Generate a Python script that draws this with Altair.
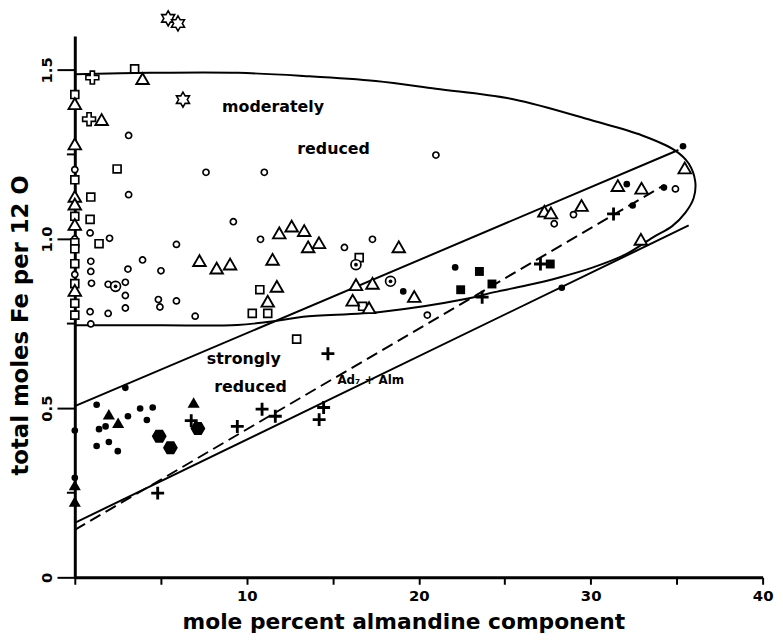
import altair as alt
import pandas as pd

# ---------------- data ----------------
open_circles = [(3.13, 1.306), (7.63, 1.197), (11.02, 1.197), (21.0, 1.248), (0, 1.205),
                (3.13, 1.131), (9.22, 1.051), (0.89, 1.018), (2.02, 1.002), (5.91, 0.984),
                (3.94, 0.938), (0.93, 0.934), (0.93, 0.904), (3.09, 0.911), (5.01, 0.906),
                (0.97, 0.869), (1.94, 0.866), (2.94, 0.872), (2.94, 0.833), (4.86, 0.821),
                (4.95, 0.799), (5.91, 0.817), (2.94, 0.796), (0.89, 0.785), (1.94, 0.78),
                (7.0, 0.772), (0.93, 0.749), (0, 1.0), (0, 0.895), (10.8, 0.999),
                (15.68, 0.975), (17.31, 0.999), (20.5, 0.775), (29.0, 1.072),
                (27.88, 1.045), (34.93, 1.148)]
open_squares = [(3.48, 1.503), (2.46, 1.207), (0, 1.427), (0, 1.175), (0.93, 1.124),
                (0.89, 1.058), (1.41, 0.986), (0, 1.067), (0, 0.989), (0, 0.971),
                (0, 0.927), (0, 0.868), (0, 0.81), (0, 0.775), (10.32, 0.78),
                (11.22, 0.78), (10.76, 0.85), (12.9, 0.704), (16.54, 0.945), (16.74, 0.801)]
open_triangles = [(3.94, 1.474), (1.56, 1.353), (0, 1.40), (0, 1.281), (0, 1.126),
                  (0, 1.103), (0, 1.043), (0, 0.848), (7.25, 0.936), (8.25, 0.914),
                  (9.03, 0.926), (11.89, 1.018), (12.61, 1.038), (13.34, 1.025),
                  (13.57, 0.977), (14.2, 0.989), (11.5, 0.94), (11.75, 0.86),
                  (11.22, 0.816), (18.84, 0.977), (16.35, 0.865), (17.31, 0.869),
                  (16.16, 0.819), (17.11, 0.797), (19.74, 0.83), (35.47, 1.21),
                  (31.58, 1.158), (32.96, 1.15), (29.47, 1.099), (27.31, 1.082),
                  (27.69, 1.077), (32.92, 0.999)]
filled_circles = [(2.94, 0.56), (1.27, 0.51), (3.09, 0.476), (3.8, 0.499), (4.19, 0.465),
                  (4.53, 0.502), (1.41, 0.438), (1.79, 0.446), (1.27, 0.388), (1.98, 0.4),
                  (2.5, 0.373), (0, 0.434), (0, 0.294), (19.1, 0.845), (22.12, 0.916),
                  (35.37, 1.274), (32.1, 1.162), (34.26, 1.152), (32.44, 1.099), (28.32, 0.856)]
filled_triangles = [(1.98, 0.482), (2.52, 0.457), (6.91, 0.517), (0, 0.273), (0, 0.224)]
filled_hexagons = [(4.91, 0.417), (5.56, 0.383), (7.16, 0.44)]
filled_squares = [(23.53, 0.904), (22.44, 0.85), (24.26, 0.867), (27.65, 0.926)]
plus_signs = [(14.72, 0.661), (10.89, 0.497), (11.66, 0.476), (14.47, 0.502), (14.21, 0.466),
              (9.45, 0.446), (6.77, 0.463), (4.82, 0.249), (23.69, 0.828), (31.33, 1.074),
              (27.08, 0.926)]
open_crosses = [(1.02, 1.477), (0.83, 1.354)]
stars = [(5.43, 1.652), (6.0, 1.637), (6.29, 1.412)]
circled_dots = [(2.37, 0.86), (16.35, 0.924), (18.36, 0.875)]

curve_x = [0, 4.4, 9.5, 13.3, 17.5, 21.0, 25.5, 30.1, 33.0, 34.9, 35.7, 36.08, 35.99,
           35.5, 34.74, 33.6, 32.06, 30.14, 28.23, 26.3, 24.4, 22.86, 17.88, 13.28,
           11.75, 9.45, 5.0, 0]
curve_y = [1.487, 1.491, 1.491, 1.482, 1.467, 1.444, 1.413, 1.35, 1.306, 1.262, 1.223,
           1.17, 1.121, 1.077, 1.038, 1.004, 0.955, 0.916, 0.887, 0.863, 0.843, 0.824,
           0.785, 0.77, 0.758, 0.746, 0.745, 0.745]

solid_lines = [("upper", 0, 0.506), ("upper", 35.1, 1.263),
               ("lower", 0, 0.161), ("lower", 35.7, 1.04)]
dashed_line = [(0, 0.14), (34.3, 1.16)]

region_labels = ["moderately", "reduced", "strongly", "reduced"]
region_x = [11.53, 15.05, 9.83, 10.22]
region_y = [1.39, 1.266, 0.645, 0.563]
line_label = ["Ad\u2087 + Alm"]
line_label_x = [17.21]
line_label_y = [0.583]

x_ticks = [0, 5, 10, 15, 20, 25, 30, 35, 40]
y_ticks = [0, 0.5, 1.0, 1.5]
y_minor_ticks = [0.25, 0.75, 1.25]

# ---------------- chart ----------------
FONT = "DejaVu Sans"

x_axis = alt.Axis(values=x_ticks, format="d",
                  labelExpr="(datum.value % 10 === 0 && datum.value > 0) ? datum.label : ''",
                  grid=False, domainColor="black", domainWidth=3,
                  tickColor="black", tickWidth=2, tickSize=7,
                  labelFont=FONT, labelFontSize=15, labelFontWeight="bold",
                  labelColor="black", labelPadding=4, labelFlush=False, labelOverlap=False,
                  title="mole percent almandine component", titleFont=FONT,
                  titleFontSize=22, titleFontWeight="bold", titleColor="black",
                  titleX=332, titleY=52, titleAlign="center", titleBaseline="alphabetic")
y_axis = alt.Axis(values=y_ticks,
                  labelExpr="datum.value === 0 ? '0' : format(datum.value, '.1f')",
                  grid=False, domainColor="black", domainWidth=3,
                  tickColor="black", tickWidth=2, tickSize=18,
                  labelAngle=270, labelFont=FONT, labelFontSize=15, labelFontWeight="bold",
                  labelColor="black", labelPadding=3, labelFlush=False, labelOverlap=False,
                  title="total moles Fe per 12 O", titleFont=FONT, titleFontSize=23,
                  titleFontWeight="bold", titleColor="black", titleAngle=270,
                  titleX=-47.5, titleY=292, titleAlign="center", titleBaseline="alphabetic")

X = alt.X("x:Q", scale=alt.Scale(domain=[0, 40], nice=False, zero=False), axis=x_axis)
Y = alt.Y("y:Q", scale=alt.Scale(domain=[0, 1.6], nice=False, zero=False), axis=y_axis)

HEX = "M-0.5,-0.866L0.5,-0.866L1,0L0.5,0.866L-0.5,0.866L-1,0Z"
PLUS = "M-1,-0.22L1,-0.22L1,0.22L-1,0.22Z M-0.22,-1L0.22,-1L0.22,1L-0.22,1Z"
OPEN_CROSS = ("M-0.33,-1L0.33,-1L0.33,-0.33L1,-0.33L1,0.33L0.33,0.33L0.33,1L-0.33,1"
              "L-0.33,0.33L-1,0.33L-1,-0.33L-0.33,-0.33Z")
STAR = ("M0,-1L0.289,-0.5L0.866,-0.5L0.577,0L0.866,0.5L0.289,0.5L0,1L-0.289,0.5"
        "L-0.866,0.5L-0.577,0L-0.866,-0.5L-0.289,-0.5Z")


def pts(points, shape, size, fill, stroke=None, sw=0):
    df = pd.DataFrame(points, columns=["x", "y"])
    kw = dict(shape=shape, size=size, filled=True, fill=fill, opacity=1)
    if stroke is not None:
        kw.update(stroke=stroke, strokeWidth=sw)
    return alt.Chart(df).mark_point(**kw).encode(x=X, y=Y)


curve_df = pd.DataFrame({"x": curve_x, "y": curve_y, "i": list(range(len(curve_x)))})
curve = alt.Chart(curve_df).mark_line(color="black", strokeWidth=2,
                                      interpolate="catmull-rom").encode(
    x=X, y=Y, order="i:Q")

solid_df = pd.DataFrame(solid_lines, columns=["seg", "x", "y"])
solid = alt.Chart(solid_df).mark_line(color="black", strokeWidth=2).encode(
    x=X, y=Y, detail="seg:N")

dash_df = pd.DataFrame(dashed_line, columns=["x", "y"])
dashed = alt.Chart(dash_df).mark_line(color="black", strokeWidth=2,
                                      strokeDash=[12, 6]).encode(x=X, y=Y)

# minor ticks on the y axis (short, outward)
minor_df = pd.DataFrame({"y": y_minor_ticks})
minor = alt.Chart(minor_df).mark_rule(color="black", strokeWidth=2).encode(
    x=alt.value(-8), x2=alt.value(0), y=Y)

reg_df = pd.DataFrame({"x": region_x, "y": region_y, "t": region_labels})
reg_text = alt.Chart(reg_df).mark_text(font=FONT, fontSize=16, fontWeight="bold",
                                       color="black", align="center",
                                       baseline="middle").encode(x=X, y=Y, text="t:N")
ll_df = pd.DataFrame({"x": line_label_x, "y": line_label_y, "t": line_label})
ll_text = alt.Chart(ll_df).mark_text(font=FONT, fontSize=12, fontWeight="bold",
                                     color="black", align="center",
                                     baseline="middle").encode(x=X, y=Y, text="t:N")

layers = [
    curve, solid, dashed, minor,
    pts(open_circles, "circle", 38, "white", "black", 1.7),
    pts(open_squares, "square", 64, "white", "black", 1.7),
    pts(open_triangles, "triangle-up", 160, "white", "black", 1.9),
    pts(filled_circles, "circle", 45, "black"),
    pts(filled_triangles, "triangle-up", 150, "black"),
    pts(filled_hexagons, HEX, 225, "black"),
    pts(filled_squares, "square", 81, "black"),
    pts(plus_signs, PLUS, 170, "black"),
    pts(open_crosses, OPEN_CROSS, 170, "white", "black", 1.6),
    pts(stars, STAR, 230, "white", "black", 1.6),
    pts(circled_dots, "circle", 100, "white", "black", 1.7),
    pts(circled_dots, "circle", 14, "black"),
    reg_text, ll_text,
]

chart = alt.layer(*layers).properties(
    width=695, height=547,
    autosize=alt.AutoSizeParams(type="none"),
    padding={"left": 67.5, "top": 25, "right": 12.5, "bottom": 55},
    background="white",
).configure_view(strokeWidth=0)

chart.save("out.html", embed_options={"renderer": "svg", "actions": False})
